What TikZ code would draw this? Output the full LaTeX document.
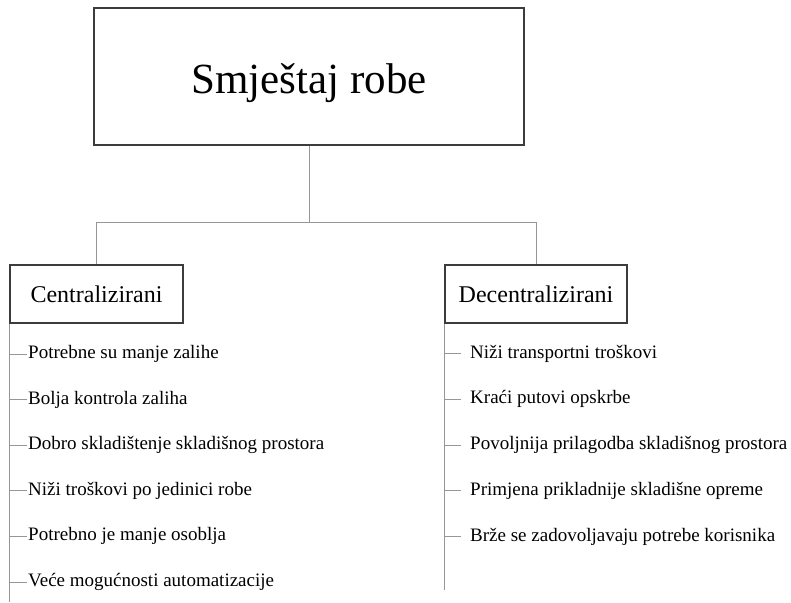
\documentclass[tikz,border=0pt]{standalone}
\usepackage{fontspec}
\setmainfont{Liberation Serif}
\usetikzlibrary{positioning,calc}
\definecolor{boxline}{RGB}{60,60,60}
\definecolor{connline}{RGB}{150,150,150}
\tikzset{
  mainbox/.style={draw=boxline, line width=1.1pt, minimum width=430pt, minimum height=137pt,
    text height=33pt, text depth=0pt, font=\fontsize{43}{50}\selectfont},
  groupbox/.style={draw=boxline, line width=1.1pt, minimum height=58pt,
    font=\fontsize{24}{28}\selectfont},
  item/.style={anchor=west, inner xsep=0pt, text height=13pt, text depth=4pt,
    font=\fontsize{19}{22}\selectfont},
  conn/.style={draw=connline, line width=0.9pt}
}

\begin{document}
\begin{tikzpicture}[x=1pt, y=1pt]
    \useasboundingbox (0,0) rectangle (791,-602);

    % Top box
    \node[mainbox] (robe) at (309,-76.5) {Smještaj robe};

    % The two groups
    \node[groupbox, minimum width=173pt] (cent) at (96.5,-294) {Centralizirani};
    \node[groupbox, minimum width=182pt] (decent) at (536,-294) {Decentralizirani};

    \coordinate (split) at ($(robe.south)+(0,-77)$);
    \draw[conn] (robe.south) -- (split);
    \draw[conn] (split) -| (cent.north);
    \draw[conn] (split) -| (decent.north);

    % Left list
    \coordinate (centend) at (cent.south west |- 0,-602);
    \draw[conn] (cent.south west) -- (centend);
    \foreach \txt [count=\i] in {Potrebne su manje zalihe, Bolja kontrola zaliha,
        Dobro skladištenje skladišnog prostora, Niži troškovi po jedinici robe,
        Potrebno je manje osoblja, Veće mogućnosti automatizacije} {
        \node[item] (c\i) at (28,{-354-45.6*(\i-1)}) {\txt};
        \draw[conn] (c\i.west -| cent.south west) -- ([xshift=-1pt]c\i.west);
    }

    % Right list
    \coordinate (decentend) at (decent.south west |- 0,-590);
    \draw[conn] (decent.south west) -- (decentend);
    \foreach \txt [count=\i] in {Niži transportni troškovi, Kraći putovi opskrbe,
        Povoljnija prilagodba skladišnog prostora, Primjena prikladnije skladišne opreme,
        Brže se zadovoljavaju potrebe korisnika} {
        \node[item] (d\i) at (470,{-353.5-45.8*(\i-1)}) {\txt};
        \draw[conn] (d\i.west -| decent.south west) -- ([xshift=-9pt]d\i.west);
    }
\end{tikzpicture}
\end{document}
